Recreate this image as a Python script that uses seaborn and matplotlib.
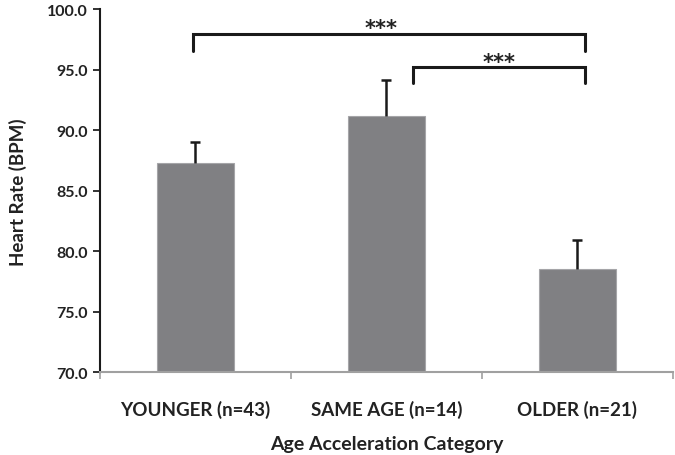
import pandas as pd
import numpy as np
import seaborn as sns
import matplotlib.pyplot as plt

# values
categories = ['YOUNGER (n=43)', 'SAME AGE (n=14)', 'OLDER (n=21)']
heart_rate = [87.3, 91.2, 78.5]
upper_err = [1.7, 3.0, 2.4]
yticks = [70, 75, 80, 85, 90, 95, 100]

df = pd.DataFrame({'category': categories, 'hr': heart_rate})

sns.set_style('white')
plt.rcParams['font.family'] = ['Lato', 'DejaVu Sans']

fig = plt.figure(figsize=(6.75, 4.56), dpi=100)
ax = fig.add_axes([0.148, 0.182, 0.849, 0.795])

sns.barplot(data=df, x='category', y='hr', color='#808083', width=0.4,
            errorbar=None, edgecolor='#a5a5a8', linewidth=0.8, ax=ax)
# bars start at the axis bottom (70), not at 0
ax.set_ylim(70, 100)
ax.set_xlim(-0.5, 2.5)

# upper error bars only
eb = ax.errorbar(range(len(categories)), heart_rate,
                 yerr=[np.zeros(len(upper_err)), upper_err],
                 fmt='none', ecolor='#1a1a1a', elinewidth=1.8, capsize=3.5, capthick=1.8)
eb[1][0].set_visible(False)  # drop the lower cap

# significance brackets
def bracket(x1, x2, y, drop, label, tx, ty):
    ax.plot([x1, x1, x2, x2], [y - drop, y, y, y - drop], color='#1a1a1a', lw=2.2,
            solid_joinstyle='miter', clip_on=False)
    ax.text(tx, ty, label, ha='center', va='center',
            fontsize=15, fontweight='bold', color='#222222', family='DejaVu Sans')

bracket(-0.015, 2.04, 98.0, 1.4, '***', 0.97, 98.45)
bracket(1.14, 2.04, 95.2, 1.3, '***', 1.59, 95.65)

ax.set_yticks(yticks)
ax.set_yticklabels(['%.1f' % t for t in yticks], fontweight='bold', fontsize=11.5, color='#222222')
ax.set_xticks(range(len(categories)))
ax.set_xticklabels(categories, fontweight='bold', fontsize=13.5, color='#222222')
ax.set_xticks([-0.5, 0.5, 1.5, 2.5], minor=True)

ax.tick_params(axis='y', direction='out', length=5, width=1.3, color='#222222', left=True, pad=4)
ax.tick_params(axis='x', which='major', length=0, pad=20)
ax.tick_params(axis='x', which='minor', direction='out', length=5, width=1.2, color='#a0a0a0', bottom=True)

for s in ['top', 'right']:
    ax.spines[s].set_visible(False)
ax.spines['left'].set_color('#1a1a1a')
ax.spines['left'].set_linewidth(1.5)
ax.spines['bottom'].set_color('#a0a0a0')
ax.spines['bottom'].set_linewidth(1.5)

ax.set_ylabel('Heart Rate (BPM)', fontsize=13.5, fontweight='bold', color='#222222', labelpad=14)
ax.set_xlabel('Age Acceleration Category', fontsize=14, fontweight='bold', color='#222222', labelpad=12)

fig.savefig('out.png', dpi=100)
